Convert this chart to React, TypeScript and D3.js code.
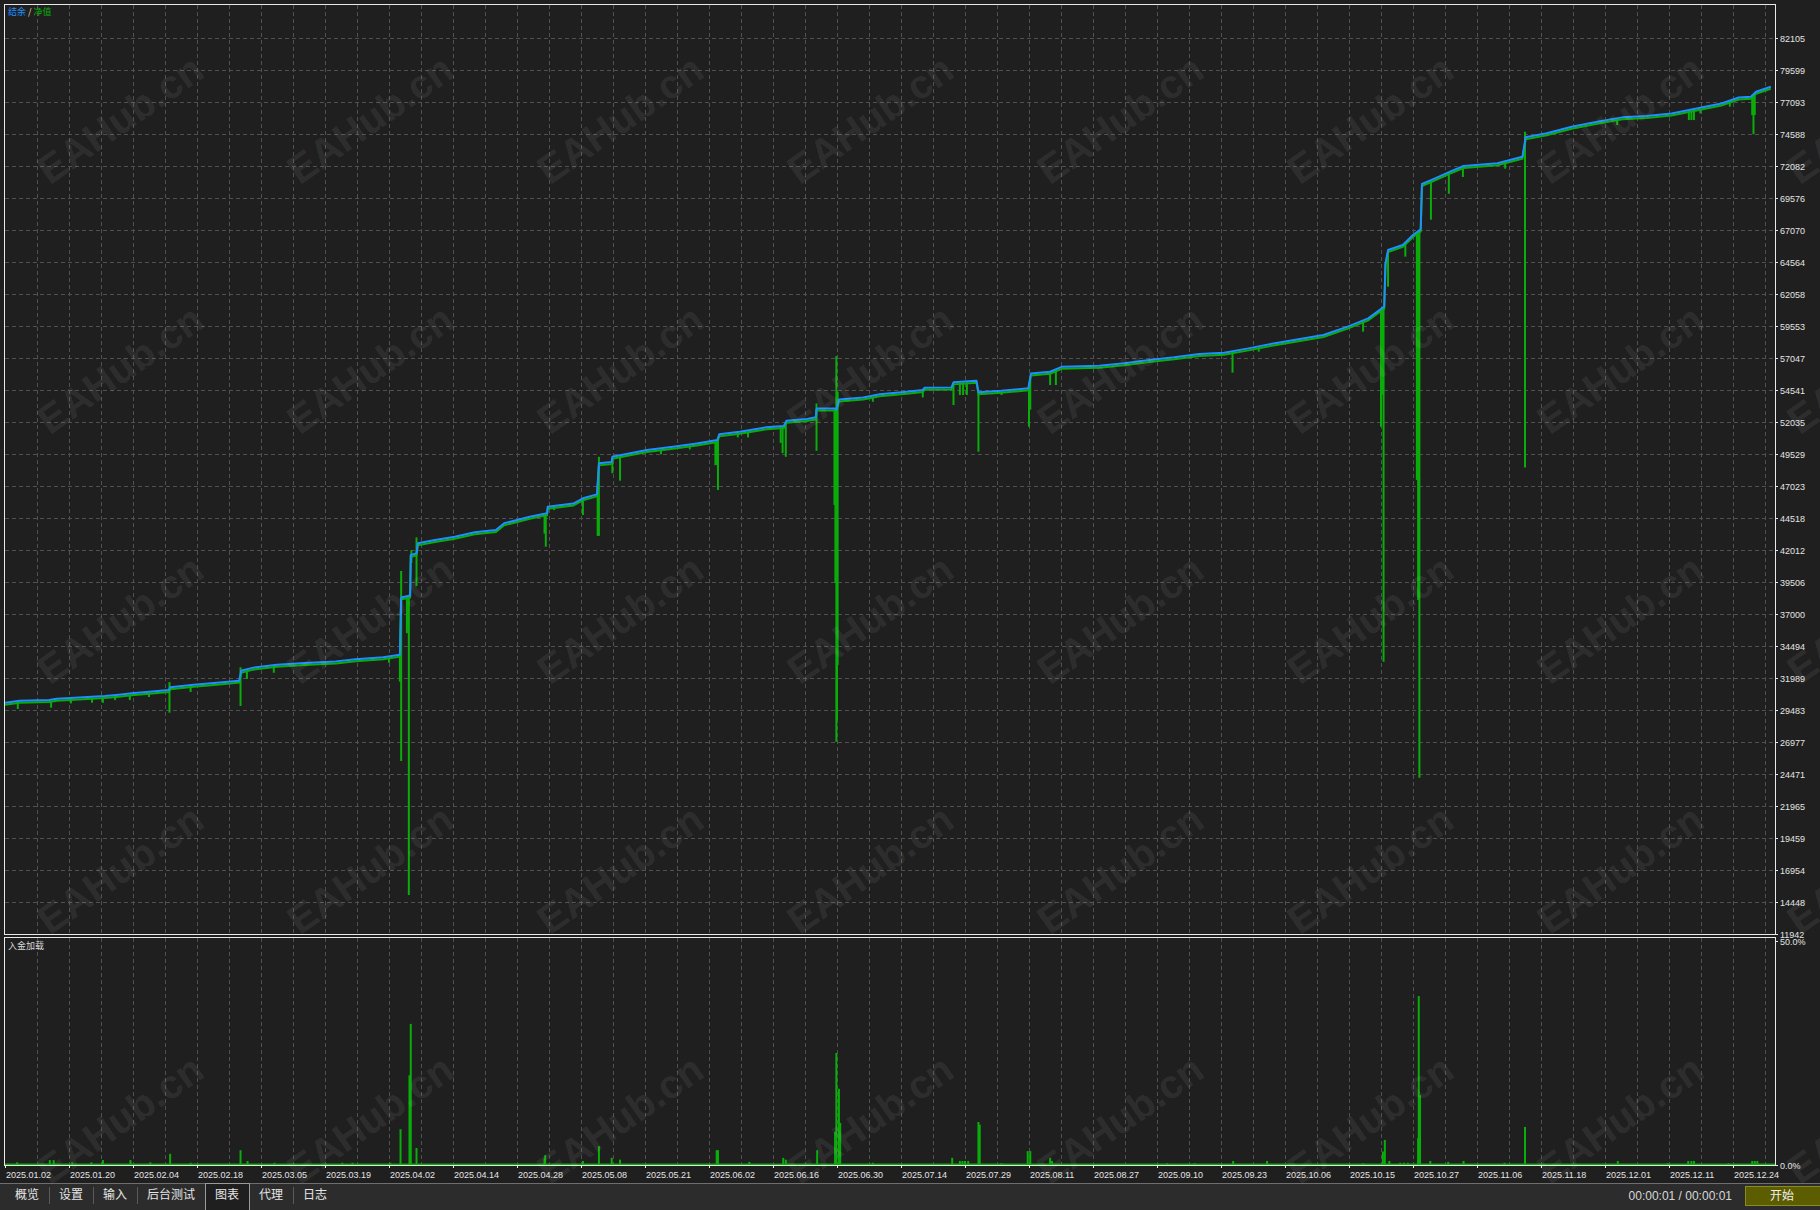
import * as d3 from 'd3';

// x axis: one unit per date label (labels are 64px apart in the tester)
const dateLabels = [
  '2025.01.02', '2025.01.20', '2025.02.04', '2025.02.18', '2025.03.05', '2025.03.19', '2025.04.02',
  '2025.04.14', '2025.04.28', '2025.05.08', '2025.05.21', '2025.06.02', '2025.06.16', '2025.06.30',
  '2025.07.14', '2025.07.29', '2025.08.11', '2025.08.27', '2025.09.10', '2025.09.23', '2025.10.06',
  '2025.10.15', '2025.10.27', '2025.11.06', '2025.11.18', '2025.12.01', '2025.12.11', '2025.12.24',
];

const yTickLabels = [
  '11942', '14448', '16954', '19459', '21965', '24471', '26977', '29483', '31989', '34494',
  '37000', '39506', '42012', '44518', '47023', '49529', '52035', '54541', '57047', '59553',
  '62058', '64564', '67070', '69576', '72082', '74588', '77093', '79599', '82105',
];

const subTickLabels = ['0.0%', '50.0%'];

// balance curve: [position, value]
const balance: [number, number][] = [
  [0, 30050], [0.23, 30210], [0.69, 30260], [0.81, 30360], [1.09, 30440], [1.56, 30580],
  [1.78, 30680], [1.98, 30790], [2.3, 30940], [2.56, 31050], [2.58, 31260], [2.95, 31460],
  [3.31, 31620], [3.66, 31780], [3.69, 32560], [3.88, 32800], [4.25, 33030], [4.68, 33160],
  [5.17, 33290], [5.48, 33450], [5.91, 33610], [6.17, 33810], [6.19, 38300], [6.33, 38450],
  [6.34, 41620], [6.43, 41750], [6.45, 42540], [6.72, 42800], [7.03, 43050], [7.34, 43400],
  [7.67, 43580], [7.8, 44100], [8.2, 44620], [8.47, 44890], [8.48, 45400], [8.88, 45650],
  [9.03, 46060], [9.25, 46370], [9.28, 48800], [9.48, 48900], [9.49, 49310], [9.71, 49530],
  [10.03, 49840], [10.44, 50100], [10.81, 50360], [11.13, 50620], [11.16, 51070], [11.48, 51280],
  [11.9, 51620], [12.17, 51720], [12.21, 52140], [12.53, 52270], [12.67, 52400], [12.68, 53100],
  [12.97, 53100], [12.99, 53000], [13.03, 53800], [13.41, 53960], [13.67, 54200], [14.09, 54400],
  [14.34, 54540], [14.37, 54720], [14.79, 54740], [14.82, 55140], [15.18, 55270], [15.21, 54360],
  [15.57, 54480], [15.99, 54670], [16.03, 55840], [16.33, 55970], [16.52, 56370], [17.1, 56440],
  [17.49, 56630], [17.88, 56890], [18.27, 57100], [18.66, 57360], [19.05, 57460], [19.43, 57800],
  [19.82, 58190], [20.21, 58510], [20.6, 58850], [20.98, 59500], [21.3, 60150], [21.55, 61070],
  [21.57, 64460], [21.61, 65500], [21.84, 65900], [22.0, 66680], [22.12, 67120], [22.14, 70670],
  [22.31, 71040], [22.58, 71640], [22.79, 72080], [23.32, 72290], [23.71, 72810], [23.76, 74330],
  [24.09, 74640], [24.48, 75160], [24.88, 75550], [25.27, 75890], [25.65, 76000], [26.04, 76200],
  [26.43, 76590], [26.82, 76980], [27.09, 77450], [27.28, 77500], [27.36, 77900], [27.59, 78290],
];

// equity lows below the balance: [position, value]
const equityDips: [number, number][] = [
  [0.2, 29560], [0.72, 29660], [1.03, 30000], [1.36, 30050], [1.53, 30050], [1.72, 30260],
  [1.95, 30260], [2.25, 30500], [2.57, 29270], [2.9, 30890], [3.68, 29800], [3.78, 31910],
  [4.2, 32400], [6.0, 33180], [6.17, 31700], [6.19, 25490], [6.28, 35500], [6.3, 36000],
  [6.31, 14990], [6.35, 41000], [6.43, 39190], [8.43, 43300], [8.45, 42270], [8.58, 45140],
  [9.03, 44750], [9.26, 43120], [9.28, 43120], [9.49, 48020], [9.61, 47440], [10.25, 49500],
  [10.7, 49890], [11.1, 48660], [11.12, 48660], [11.14, 46710], [11.45, 50830], [11.61, 50830],
  [12.12, 50400], [12.15, 49600], [12.2, 49310], [12.68, 49780], [12.96, 45540], [12.975, 39430],
  [12.99, 27000], [13.0, 28700], [13.01, 33000], [13.56, 53620], [14.34, 53960], [14.82, 53360],
  [14.92, 54150], [14.97, 54150], [15.03, 54150], [15.21, 49710], [15.57, 54150], [16.0, 51670],
  [16.02, 53000], [16.33, 54930], [16.42, 54930], [19.18, 55900], [19.59, 57540], [21.22, 59110],
  [21.5, 51670], [21.52, 54180], [21.54, 33270], [21.61, 62630], [21.88, 64980], [22.06, 47500],
  [22.08, 38100], [22.1, 24180], [22.28, 67880], [22.56, 69910], [22.78, 71220], [23.44, 71870],
  [23.75, 48480], [25.19, 75290], [26.31, 75680], [26.35, 75680], [26.39, 75680], [26.49, 76200],
  [26.95, 76730], [27.3, 76070], [27.32, 74570], [27.34, 76070],
];

// equity highs above the balance: [position, value]
const equityPeaks: [number, number][] = [
  [2.57, 31670], [3.68, 32830], [6.19, 40370], [6.35, 42010], [6.43, 43000], [9.28, 49310],
  [12.68, 53490], [12.99, 57200], [13.01, 54400], [23.75, 74760],
];

// deposit load (%): [position, percent]
const depositLoad: [number, number][] = [
  [0.19, 0.6], [0.7, 1.1], [0.76, 1.1], [1.05, 0.6], [1.35, 0.6], [1.53, 1.1], [1.96, 1.1],
  [2.27, 0.6], [2.58, 2.5], [2.9, 0.5], [3.68, 3.3], [3.79, 0.9], [4.21, 0.5], [5.27, 0.5],
  [5.43, 0.5], [6.02, 0.5], [6.18, 8], [6.32, 20], [6.34, 31.5], [6.43, 3.8], [8.43, 1.5],
  [8.44, 2.2], [9.03, 0.9], [9.28, 4.2], [9.48, 1.6], [9.61, 1.2], [11.12, 3.3], [11.14, 3.3],
  [11.63, 0.7], [12.16, 1.6], [12.2, 1.2], [12.69, 3.3], [12.97, 7.4], [12.99, 25], [13.03, 17],
  [13.05, 9.4], [13.56, 0.5], [14.8, 1.6], [14.92, 0.9], [14.96, 0.9], [15.0, 0.9], [15.05, 0.9],
  [15.21, 9.6], [15.23, 9], [15.57, 0.4], [15.98, 3.1], [16.02, 3.1], [16.33, 1.6], [16.36, 0.9],
  [18.16, 0.4], [18.59, 0.4], [19.19, 0.9], [19.72, 0.9], [21.22, 0.4], [21.53, 3], [21.56, 5.6],
  [21.63, 0.9], [21.8, 0.5], [21.86, 0.5], [21.92, 0.5], [22.08, 6], [22.09, 37.7], [22.11, 15.6],
  [22.27, 0.9], [22.55, 0.7], [22.79, 0.9], [23.43, 0.5], [23.75, 8.5], [25.2, 0.9], [25.98, 0.4],
  [26.3, 0.9], [26.35, 0.9], [26.39, 0.9], [26.93, 0.4], [27.3, 0.9], [27.34, 0.9], [27.38, 0.9],
];

const tabs = ['概览', '设置', '输入', '后台测试', '图表', '代理', '日志'];
const activeTab = '图表';

const BG = '#1f1f1f';
const GRID = '#505050';
const FRAME = '#e8e8e8';
const TEXT = '#e4e4e4';
const BLUE = '#1e90ff';
const GREEN = '#0aad0a';
const NUM_FONT = '"Liberation Sans", Arial, sans-serif';
const CJK_FONT = '"Noto Sans CJK SC", "Noto Sans", sans-serif';

export default function App() {
  const width = 1820;
  const height = 1210;
  const left = 4;
  const right = 1775;
  const mainTop = 4;
  const mainBottom = 934;
  const subTop = 937;
  const subBottom = 1165;

  const x = d3.scaleLinear().domain([0, dateLabels.length - 1]).range([5, 5 + 64 * (dateLabels.length - 1)]);
  const y = d3.scaleLinear().domain([+yTickLabels[0], +yTickLabels[yTickLabels.length - 1]]).range([mainBottom, 38]);
  const ySub = d3.scaleLinear().domain([0, 50]).range([subBottom, 941]);

  const bis = d3.bisector((d: [number, number]) => d[0]).left;
  const balanceAt = (t: number) => {
    const i = Math.max(1, Math.min(balance.length - 1, bis(balance, t)));
    const a = balance[i - 1];
    const b = balance[i];
    const k = b[0] === a[0] ? 1 : (t - a[0]) / (b[0] - a[0]);
    return a[1] + (b[1] - a[1]) * Math.max(0, Math.min(1, k));
  };

  const line = d3
    .line<[number, number]>()
    .x((d) => x(d[0]))
    .y((d) => y(d[1]));

  // vertical grid every half label step (32px), in pixels
  const gridX = d3
    .range(0.5, 27.8, 0.5)
    .map((t) => x(t))
    .filter((px) => px < right - 2);
  const gridY = yTickLabels.slice(1).map((v) => y(+v));

  // tab geometry
  let cursor = 5;
  const tabBoxes = tabs.map((name) => {
    const w = name.length * 12 + 20;
    const box = { name, x0: cursor, x1: cursor + w };
    cursor += w;
    return box;
  });

  const watermarks: [number, number][] = [];
  for (let i = 0; i < 8; i++) for (let j = 0; j < 5; j++) watermarks.push([122 + 250 * i, 122 + 250 * j]);

  return (
    <svg
      width={width}
      height={height}
      style={{ position: 'absolute', left: 0, top: 0, display: 'block' }}
      xmlns="http://www.w3.org/2000/svg"
    >
      <defs>
        <clipPath id="mainClip">
          <rect x={left + 1} y={mainTop + 1} width={right - left - 1} height={mainBottom - mainTop - 1} />
        </clipPath>
        <clipPath id="subClip">
          <rect x={left + 1} y={subTop + 1} width={right - left - 1} height={subBottom - subTop + 1} />
        </clipPath>
      </defs>
      <rect x={0} y={0} width={width} height={height} fill={BG} />

      {/* grid */}
      <g stroke={GRID} strokeWidth={1} strokeDasharray="4,3" shapeRendering="crispEdges">
        {gridX.map((gx, i) => (
          <line key={'vx' + i} x1={Math.round(gx) + 0.5} x2={Math.round(gx) + 0.5} y1={mainTop + 1} y2={mainBottom} />
        ))}
        {gridX.map((gx, i) => (
          <line key={'vs' + i} x1={Math.round(gx) + 0.5} x2={Math.round(gx) + 0.5} y1={subTop + 1} y2={subBottom} />
        ))}
        {gridY.map((gy, i) => (
          <line key={'h' + i} x1={left + 1} x2={right} y1={Math.round(gy) + 0.5} y2={Math.round(gy) + 0.5} />
        ))}
      </g>

      {/* main panel: equity and balance */}
      <g clipPath="url(#mainClip)">
        <path d={line(balance) ?? ''} fill="none" stroke={GREEN} strokeWidth={2} transform="translate(0,2)" />
        <g stroke={GREEN} strokeWidth={2}>
          {equityDips.map(([t, v], i) => (
            <line key={'d' + i} x1={x(t)} x2={x(t)} y1={y(balanceAt(t)) + 1} y2={y(v)} />
          ))}
          {equityPeaks.map(([t, v], i) => (
            <line key={'p' + i} x1={x(t)} x2={x(t)} y1={y(v)} y2={y(balanceAt(t))} />
          ))}
        </g>
        <path d={line(balance) ?? ''} fill="none" stroke={BLUE} strokeWidth={2} strokeLinejoin="round" />
      </g>

      {/* sub panel: deposit load */}
      <g clipPath="url(#subClip)">
        {depositLoad.map(([t, p], i) => (
          <rect key={'b' + i} x={x(t) - 1} y={ySub(p)} width={2} height={ySub(0) - ySub(p)} fill={GREEN} />
        ))}
        <line x1={left} x2={right} y1={ySub(0) - 0.5} y2={ySub(0) - 0.5} stroke={GREEN} strokeWidth={2} />
      </g>

      {/* frames */}
      <g fill="none" stroke={FRAME} strokeWidth={1} shapeRendering="crispEdges">
        <rect x={left + 0.5} y={mainTop + 0.5} width={right - left} height={mainBottom - mainTop} />
        <rect x={left + 0.5} y={subTop + 0.5} width={right - left} height={subBottom - subTop} />
      </g>

      {/* right axis */}
      <g fontFamily={NUM_FONT} fontSize={9} fill={TEXT}>
        {yTickLabels.map((lab, i) => (
          <g key={'yt' + i}>
            <line x1={right} x2={right + 3} y1={Math.round(y(+lab)) + 0.5} y2={Math.round(y(+lab)) + 0.5} stroke={FRAME} />
            <text x={right + 5} y={y(+lab) + 4}>
              {lab}
            </text>
          </g>
        ))}
        {subTickLabels.map((lab, i) => (
          <g key={'st' + i}>
            <line x1={right} x2={right + 3} y1={Math.round(ySub(parseFloat(lab))) + 0.5} y2={Math.round(ySub(parseFloat(lab))) + 0.5} stroke={FRAME} />
            <text x={right + 5} y={ySub(parseFloat(lab)) + 4}>
              {lab}
            </text>
          </g>
        ))}
      </g>

      {/* bottom dates */}
      <g fontFamily={NUM_FONT} fontSize={9} fill={TEXT}>
        {dateLabels.map((lab, i) => (
          <g key={'dt' + i}>
            <line x1={Math.round(x(i)) + 0.5} x2={Math.round(x(i)) + 0.5} y1={subBottom} y2={subBottom + 3} stroke={FRAME} />
            <text x={x(i) + 1} y={subBottom + 13}>
              {lab}
            </text>
          </g>
        ))}
      </g>

      {/* panel titles */}
      <text x={8} y={15} fontFamily={CJK_FONT} fontSize={9}>
        <tspan fill={BLUE}>结余</tspan>
        <tspan fill="#f0d8b0"> / </tspan>
        <tspan fill={GREEN}>净值</tspan>
      </text>
      <text x={8} y={subTop + 12} fontFamily={CJK_FONT} fontSize={9} fill="#d8d8d8">
        入金加载
      </text>

      {/* watermark */}
      <g
        fontFamily='"Liberation Sans", Arial, sans-serif'
        fontWeight="bold"
        fontSize={40}
        fill="#ffffff"
        fillOpacity={0.085}
        textAnchor="middle"
        dominantBaseline="middle"
      >
        {watermarks.map(([wx, wy], i) => (
          <text key={'w' + i} x={wx} y={wy} transform={`rotate(-35 ${wx} ${wy})`}>
            EAHub.cn
          </text>
        ))}
      </g>

      {/* tab bar */}
      <rect x={0} y={1183} width={width} height={height - 1183} fill="#2c2c2c" />
      <line x1={0} x2={width} y1={1183.5} y2={1183.5} stroke="#6e6e6e" />
      {tabBoxes.map((tb, i) => {
        const active = tb.name === activeTab;
        const nextActive = tabBoxes[i + 1] && tabBoxes[i + 1].name === activeTab;
        return (
          <g key={'tab' + i}>
            {active && (
              <rect x={tb.x0 + 0.5} y={1183.5} width={tb.x1 - tb.x0} height={30} fill="#1f1f1f" stroke="#9a9a9a" />
            )}
            {!active && !nextActive && i < tabBoxes.length - 1 && (
              <line x1={tb.x1 + 0.5} x2={tb.x1 + 0.5} y1={1187} y2={1204} stroke="#5a5a5a" />
            )}
            <text
              x={(tb.x0 + tb.x1) / 2}
              y={1199}
              textAnchor="middle"
              fontFamily={CJK_FONT}
              fontSize={12}
              fill="#e6e6e6"
            >
              {tb.name}
            </text>
          </g>
        );
      })}
      <text x={1732} y={1200} textAnchor="end" fontFamily={NUM_FONT} fontSize={12} fill="#d8d8d8">
        00:00:01 / 00:00:01
      </text>
      <rect x={1745.5} y={1186.5} width={80} height={19} fill="#5c5c00" stroke="#8a8a1e" />
      <text x={1782} y={1200} textAnchor="middle" fontFamily={CJK_FONT} fontSize={12} fill="#f0f0f0">
        开始
      </text>
    </svg>
  );
}
